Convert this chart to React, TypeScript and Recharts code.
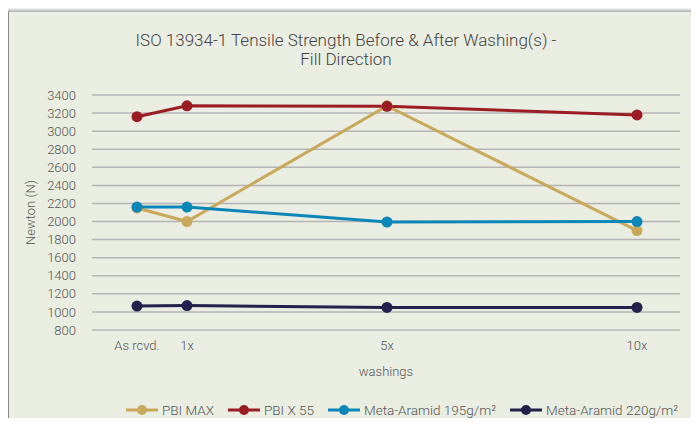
import { LineChart, Line, XAxis, YAxis, CartesianGrid } from 'recharts'

const categories = ['As rcvd.', '1x', '5x', '10x']
const washCounts = [0, 1, 5, 10]
const pbiMax = [2150, 2000, 3280, 1900]
const pbiX55 = [3160, 3280, 3275, 3180]
const metaAramid195 = [2160, 2160, 1995, 2000]
const metaAramid220 = [1065, 1070, 1050, 1050]
const yTicks = [800, 1000, 1200, 1400, 1600, 1800, 2000, 2200, 2400, 2600, 2800, 3000, 3200, 3400]

const series = [
  { key: 'pbiMax', name: 'PBI MAX', color: '#c9a85a' },
  { key: 'pbiX55', name: 'PBI X 55', color: '#9c1c24' },
  { key: 'meta195', name: 'Meta-Aramid 195g/m²', color: '#0a86b9' },
  { key: 'meta220', name: 'Meta-Aramid 220g/m²', color: '#23204b' },
]

const data = washCounts.map((w, i) => ({
  wash: w,
  pbiMax: pbiMax[i],
  pbiX55: pbiX55[i],
  meta195: metaAramid195[i],
  meta220: metaAramid220[i],
}))

const font = 'Roboto, "Liberation Sans", sans-serif'
const textColor = '#555'

const formatWash = (v: number) => categories[washCounts.indexOf(v)] ?? ''

function ChartLegend() {
  return (
    <div
      style={{
        position: 'absolute',
        top: 402,
        left: 126,
        display: 'flex',
        alignItems: 'center',
        fontFamily: font,
        fontWeight: 300,
        fontSize: 13.5,
        color: textColor,
      }}
    >
      {series.map((s) => (
        <div key={s.key} style={{ display: 'flex', alignItems: 'center', marginRight: 14 }}>
          <svg width={32} height={12} style={{ marginRight: 4 }}>
            <line x1={0} y1={6} x2={32} y2={6} stroke={s.color} strokeWidth={3} />
            <circle cx={16} cy={6} r={5} fill={s.color} />
          </svg>
          <span>{s.name}</span>
        </div>
      ))}
    </div>
  )
}

export default function App() {
  return (
    <div style={{ position: 'relative', width: 699, height: 426, margin: -8, overflow: 'hidden', background: '#fff' }}>
      <div
        style={{
          position: 'absolute',
          left: 8,
          top: 11,
          width: 686,
          height: 440,
          background: '#eaede1',
          borderTop: '1px solid #b5b5b5',
          borderLeft: '1px solid #888',
          borderRight: '2px solid #999',
          boxShadow: '-4px 0 4px rgba(0,0,0,0.55)',
        }}
      />
      <div
        style={{
          position: 'absolute',
          left: 0,
          width: 692,
          top: 31,
          textAlign: 'center',
          fontFamily: font,
          fontWeight: 300,
          fontSize: 17,
          lineHeight: '19px',
          color: '#444',
        }}
      >
        ISO 13934-1 Tensile Strength Before &amp; After Washing(s) -
        <br />
        Fill Direction
      </div>
      <div style={{ position: 'absolute', left: 0, top: 0 }}>
        <LineChart width={699} height={426} data={data} margin={{ top: 95, right: 19, bottom: 46, left: 32 }}>
          <CartesianGrid vertical={false} stroke="#b4b4b4" strokeWidth={1.5} />
          <XAxis
            dataKey="wash"
            type="number"
            domain={[0, 10]}
            ticks={washCounts}
            tickFormatter={formatWash}
            padding={{ left: 45, right: 43 }}
            axisLine={false}
            tickLine={false}
            tickMargin={5}
            height={50}
            tick={{ fill: textColor, fontSize: 13, fontFamily: font, fontWeight: 300 }}
            label={{
              value: 'washings',
              position: 'insideBottom',
              offset: 4,
              fill: textColor,
              fontSize: 13,
              fontFamily: font,
              fontWeight: 300,
            }}
          />
          <YAxis
            domain={[800, 3400]}
            ticks={yTicks}
            interval={0}
            width={60}
            axisLine={false}
            tickLine={false}
            tickMargin={10}
            tick={{ fill: textColor, fontSize: 13, fontFamily: font, fontWeight: 300 }}
            label={{
              value: 'Newton (N)',
              angle: -90,
              position: 'insideLeft',
              offset: -2,
              fill: textColor,
              fontSize: 13,
              fontFamily: font,
              fontWeight: 300,
              style: { textAnchor: 'middle' },
            }}
          />
          {series.map((s) => (
            <Line
              key={s.key}
              type="linear"
              dataKey={s.key}
              name={s.name}
              stroke={s.color}
              strokeWidth={3}
              dot={{ r: 5.5, fill: s.color, stroke: 'none' }}
              activeDot={false}
              isAnimationActive={false}
            />
          ))}
        </LineChart>
      </div>
      <ChartLegend />
    </div>
  )
}
